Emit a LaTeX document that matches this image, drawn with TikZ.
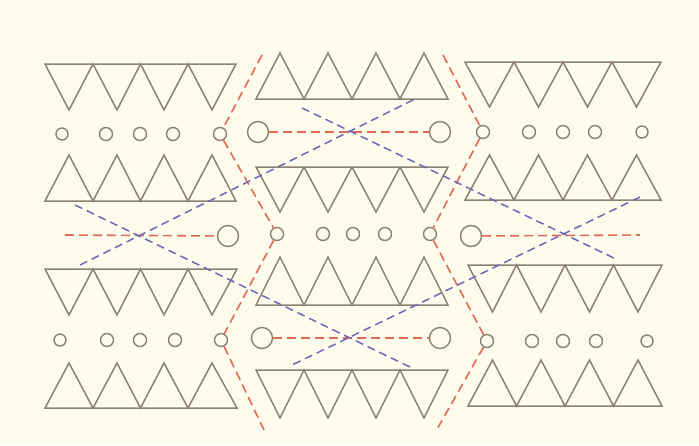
\documentclass[tikz,border=0pt]{standalone}
\usepackage{tikz}
\usepackage{xcolor}
\definecolor{paper}{RGB}{253,251,236}
\definecolor{pencil}{RGB}{140,129,114}
\definecolor{redpencil}{RGB}{224,106,86}
\definecolor{bluepencil}{RGB}{110,104,182}

\begin{document}
\begin{tikzpicture}[x=1pt, y=-1pt,
  tri/.style={draw=pencil, line width=1.5pt, line join=miter},
  dot/.style={circle, draw=pencil, fill=paper, line width=1.4pt, minimum size=13pt, inner sep=0pt},
  bigdot/.style={dot, minimum size=21pt},
  reddash/.style={draw=redpencil, line width=1.6pt, dash pattern=on 9pt off 5pt},
  bluedash/.style={draw=bluepencil, line width=1.5pt, dash pattern=on 8pt off 5pt}]

  \fill[paper] (0,0) rectangle (699,445);

  % left column
  \draw[tri] (45,64) -- (69,110) -- (93,64) -- (117,110) -- (140.5,64) -- (164,110) -- (188,64) -- (212,110) -- (236,64) -- cycle;
  \draw[tri] (45,201) -- (69,155) -- (93,201) -- (117,155) -- (140.5,201) -- (164,155) -- (188,201) -- (212,155) -- (236,201) -- cycle;
  \draw[tri] (45,269) -- (69,315) -- (93,269) -- (117,315) -- (140.5,269) -- (164,315) -- (188,269) -- (212,315) -- (237,269) -- cycle;
  \draw[tri] (45,408) -- (69,363) -- (93,408) -- (117,363) -- (140.5,408) -- (164,363) -- (188,408) -- (212,363) -- (237,408) -- cycle;

  % middle column
  \draw[tri] (256,99) -- (280,53) -- (304,99) -- (328,53) -- (352,99) -- (376,53) -- (400,99) -- (424,53) -- (448,99) -- cycle;
  \draw[tri] (256,167) -- (280,212) -- (304,167) -- (328,212) -- (352,167) -- (376,212) -- (400,167) -- (424,212) -- (448,167) -- cycle;
  \draw[tri] (256,305) -- (280,257) -- (304,305) -- (328,257) -- (352,305) -- (376,257) -- (400,305) -- (424,257) -- (448,305) -- cycle;
  \draw[tri] (256,370) -- (280,418) -- (304,370) -- (328,418) -- (352,370) -- (376,418) -- (400,370) -- (424,418) -- (448,370) -- cycle;

  % right column
  \draw[tri] (465,62) -- (489.5,107) -- (514,62) -- (538.5,107) -- (563,62) -- (587.5,107) -- (612,62) -- (636.5,107) -- (661,62) -- cycle;
  \draw[tri] (465,200) -- (489.5,155) -- (514,200) -- (538.5,155) -- (563,200) -- (587.5,155) -- (612,200) -- (636.5,155) -- (661,200) -- cycle;
  \draw[tri] (468,265) -- (492.5,312) -- (516.5,265) -- (541,312) -- (565,265) -- (589.5,312) -- (613.5,265) -- (638,312) -- (662,265) -- cycle;
  \draw[tri] (468,406) -- (492.5,360) -- (516.5,406) -- (541,360) -- (565,406) -- (589.5,360) -- (613.5,406) -- (638,360) -- (662,406) -- cycle;

  % circles
  \node[dot, minimum size=12pt] (la1) at (62,134) {};
  \node[dot] (la2) at (106,134) {};
  \node[dot] (la3) at (140,134) {};
  \node[dot] (la4) at (173,134) {};
  \node[dot] (la5) at (220,134) {};
  \node[dot, minimum size=12pt] (lb1) at (60,340) {};
  \node[dot] (lb2) at (107,340) {};
  \node[dot] (lb3) at (140,340) {};
  \node[dot] (lb4) at (175,340) {};
  \node[dot] (lb5) at (221,340) {};
  \node[bigdot] (lbig) at (228,236) {};

  \node[bigdot] (mbig1) at (258,132) {};
  \node[bigdot] (mbig2) at (440,132) {};
  \node[bigdot] (mbig3) at (262,338) {};
  \node[bigdot] (mbig4) at (440,338) {};
  \node[dot] (m1) at (277,234) {};
  \node[dot] (m2) at (323,234) {};
  \node[dot] (m3) at (353,234) {};
  \node[dot] (m4) at (385,234) {};
  \node[dot] (m5) at (430,234) {};

  \node[dot] (ra1) at (483,132) {};
  \node[dot] (ra2) at (529,132) {};
  \node[dot] (ra3) at (563,132) {};
  \node[dot] (ra4) at (595,132) {};
  \node[dot, minimum size=12pt] (ra5) at (642,132) {};
  \node[dot] (rb1) at (487,341) {};
  \node[dot] (rb2) at (532,341) {};
  \node[dot] (rb3) at (563,341) {};
  \node[dot] (rb4) at (596,341) {};
  \node[dot, minimum size=12pt] (rb5) at (647,341) {};
  \node[bigdot] (rbig) at (471,236) {};

  % red lines
  \coordinate (redl) at (65,235);
  \coordinate (redr) at (640,235);
  \coordinate (redlt) at (262,55);
  \coordinate (redlb) at (264,430);
  \coordinate (redrt) at (443,55);
  \coordinate (redrb) at (438,427.5);

  \draw[reddash] (redl) -- (lbig);
  \draw[reddash] (mbig1) -- (mbig2);
  \draw[reddash] (mbig3) -- (mbig4);
  \draw[reddash] (rbig) -- (redr);
  \draw[reddash] (redlt) -- (la5) -- (m1) -- (lb5) -- (redlb);
  \draw[reddash] (redrt) -- (ra1) -- (m5) -- (rb1) -- (redrb);

  % blue lines
  \coordinate (bl1a) at (75,205);
  \coordinate (bl1b) at (412,368);
  \coordinate (bl2a) at (80,265);
  \coordinate (bl2b) at (415,99);
  \coordinate (bl3a) at (302,108);
  \coordinate (bl3b) at (618,260);
  \coordinate (bl4a) at (640,197);
  \coordinate (bl4b) at (292,365);

  \draw[bluedash] (bl1a) -- (bl1b);
  \draw[bluedash] (bl2a) -- (bl2b);
  \draw[bluedash] (bl3a) -- (bl3b);
  \draw[bluedash] (bl4a) -- (bl4b);
\end{tikzpicture}
\end{document}
